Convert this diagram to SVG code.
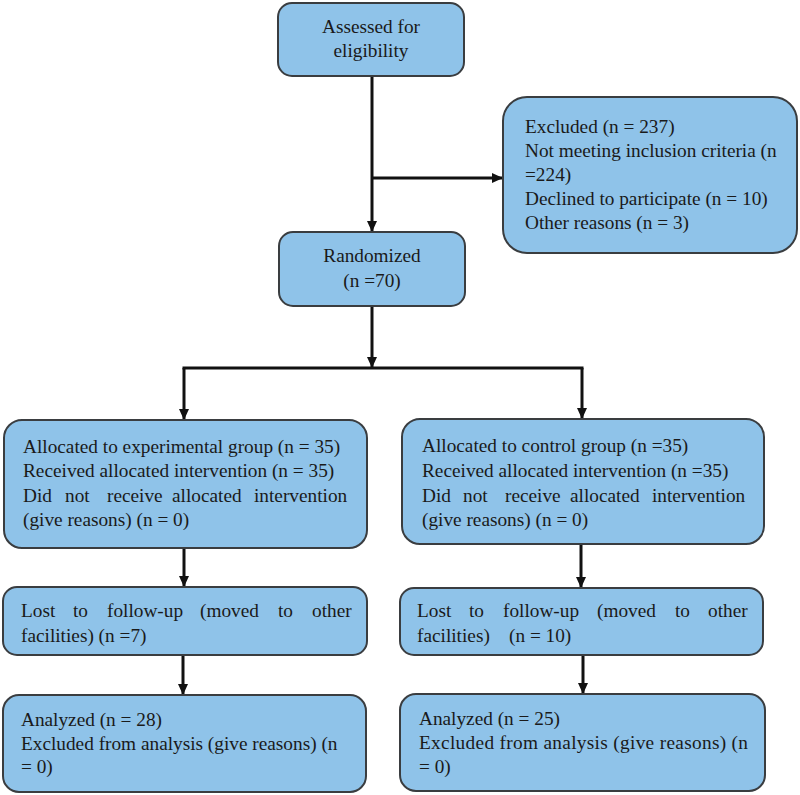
<svg xmlns="http://www.w3.org/2000/svg" width="800" height="795" viewBox="0 0 800 795">
<style>
.box{fill:#8fc3e9;stroke:#3a3d40;stroke-width:2}
.t{font-family:"Liberation Serif","Times New Roman",serif;font-size:19.3px;fill:#1a1a1a}
.c{text-anchor:middle}
.ln{stroke:#111;stroke-width:3;fill:none}
</style>
<defs>
<marker id="ah" markerUnits="userSpaceOnUse" markerWidth="12" markerHeight="10" refX="11" refY="5" orient="auto">
<path d="M0,0 L11,5 L0,10 z" fill="#111"/>
</marker>
</defs>
<rect width="800" height="795" fill="#fff"/>
<g id="connectors">
<line class="ln" x1="372" y1="76" x2="372" y2="232" marker-end="url(#ah)"/>
<line class="ln" x1="372" y1="178" x2="503" y2="178" marker-end="url(#ah)"/>
<line class="ln" x1="372" y1="306" x2="372" y2="368" marker-end="url(#ah)"/>
<line class="ln" x1="182.5" y1="368" x2="583.5" y2="368"/>
<line class="ln" x1="184" y1="368" x2="184" y2="420" marker-end="url(#ah)"/>
<line class="ln" x1="582" y1="368" x2="582" y2="419" marker-end="url(#ah)"/>
<line class="ln" x1="184" y1="548" x2="184" y2="587" marker-end="url(#ah)"/>
<line class="ln" x1="581" y1="544" x2="581" y2="588" marker-end="url(#ah)"/>
<line class="ln" x1="183" y1="655" x2="183" y2="695" marker-end="url(#ah)"/>
<line class="ln" x1="583" y1="655" x2="583" y2="694" marker-end="url(#ah)"/>
</g>
<g id="assessed">
<rect class="box" x="278" y="3" width="186" height="73" rx="14"/>
<text class="t c" x="371" y="33">Assessed for</text>
<text class="t c" x="371" y="57">eligibility</text>
</g>
<g id="excluded">
<rect class="box" x="503" y="97" width="294" height="156" rx="24"/>
<text class="t" x="525" y="133">Excluded (n = 237)</text>
<text class="t" x="525" y="157">Not meeting inclusion criteria (n</text>
<text class="t" x="525" y="181">=224)</text>
<text class="t" x="525" y="205">Declined to participate (n = 10)</text>
<text class="t" x="525" y="229">Other reasons (n = 3)</text>
</g>
<g id="randomized">
<rect class="box" x="279" y="232" width="186" height="74" rx="14"/>
<text class="t c" x="372" y="262">Randomized</text>
<text class="t c" x="372" y="287">(n =70)</text>
</g>
<g id="alloc-exp">
<rect class="box" x="4" y="420" width="363" height="128" rx="18"/>
<text class="t" x="23" y="453">Allocated to experimental group (n = 35)</text>
<text class="t" x="23" y="477">Received allocated intervention (n = 35)</text>
<text class="t" y="502"><tspan x="23">Did</tspan><tspan x="65">not</tspan><tspan x="107">receive</tspan><tspan x="172">allocated</tspan><tspan x="254">intervention</tspan></text>
<text class="t" x="23" y="526">(give reasons) (n = 0)</text>
</g>
<g id="alloc-ctrl">
<rect class="box" x="402" y="419" width="362" height="125" rx="18"/>
<text class="t" x="422" y="452">Allocated to control group (n =35)</text>
<text class="t" x="422" y="477">Received allocated intervention (n =35)</text>
<text class="t" y="502"><tspan x="422">Did</tspan><tspan x="463">not</tspan><tspan x="505">receive</tspan><tspan x="570">allocated</tspan><tspan x="652">intervention</tspan></text>
<text class="t" x="422" y="526">(give reasons) (n = 0)</text>
</g>
<g id="lost-exp">
<rect class="box" x="3" y="587" width="364" height="68" rx="14"/>
<text class="t" y="617"><tspan x="21">Lost</tspan><tspan x="73">to</tspan><tspan x="107">follow-up</tspan><tspan x="200">(moved</tspan><tspan x="278">to</tspan><tspan x="312">other</tspan></text>
<text class="t" x="21" y="642">facilities) (n =7)</text>
</g>
<g id="lost-ctrl">
<rect class="box" x="400" y="588" width="363" height="67" rx="14"/>
<text class="t" y="617"><tspan x="417">Lost</tspan><tspan x="469">to</tspan><tspan x="503">follow-up</tspan><tspan x="597">(moved</tspan><tspan x="675">to</tspan><tspan x="708">other</tspan></text>
<text class="t" y="642"><tspan x="417">facilities)</tspan><tspan x="509">(n = 10)</tspan></text>
</g>
<g id="analyzed-exp">
<rect class="box" x="3" y="695" width="363" height="97" rx="16"/>
<text class="t" x="21" y="726">Analyzed (n = 28)</text>
<text class="t" x="21" y="750">Excluded from analysis (give reasons) (n</text>
<text class="t" x="21" y="773">= 0)</text>
</g>
<g id="analyzed-ctrl">
<rect class="box" x="400" y="694" width="365" height="97" rx="16"/>
<text class="t" x="419" y="725">Analyzed (n = 25)</text>
<text class="t" x="419" y="749" textLength="329" lengthAdjust="spacing">Excluded from analysis (give reasons) (n</text>
<text class="t" x="419" y="773">= 0)</text>
</g>
</svg>
